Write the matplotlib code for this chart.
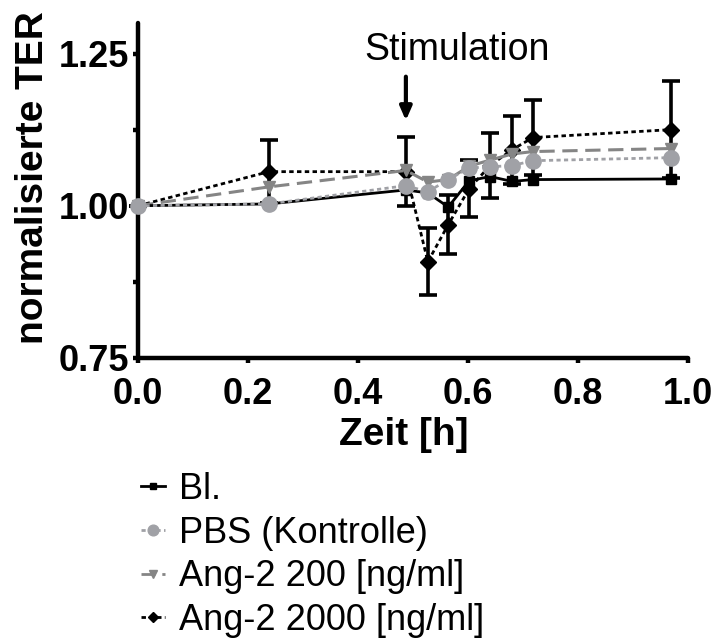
import matplotlib
matplotlib.use("Agg")
import matplotlib.pyplot as plt
from matplotlib.lines import Line2D

# Time points [h]
zeit = [0.0, 0.238, 0.487, 0.527, 0.564, 0.602, 0.640, 0.680, 0.718, 0.969]

# Normalised TER per group
bl = [1.000, 1.003, 1.026, 1.021, 0.998, 1.041, 1.048, 1.040, 1.043, 1.044]
pbs = [1.000, 1.003, 1.033, 1.023, 1.043, 1.062, 1.064, 1.066, 1.074, 1.079]
ang200 = [1.000, 1.031, 1.058, 1.039, 1.043, 1.065, 1.075, 1.085, 1.089, 1.094]
ang2000 = [1.000, 1.056, 1.056, 0.908, 0.969, 1.028, 1.066, 1.092, 1.112, 1.125]
ang2000_err = [0.0, 0.052, 0.057, 0.055, 0.048, 0.047, 0.053, 0.056, 0.062, 0.080]

labels = ["Bl.", "PBS (Kontrolle)", "Ang-2 200 [ng/ml]", "Ang-2 2000 [ng/ml]"]
x_ticks = [0.0, 0.2, 0.4, 0.6, 0.8, 1.0]
x_ticklabels = ["0.0", "0.2", "0.4", "0.6", "0.8", "1.0"]
y_ticks = [0.75, 1.00, 1.25]
y_ticklabels = ["0.75", "1.00", "1.25"]
y_minor = [0.875, 1.125]

stim_time = 0.487

plt.rcParams["font.family"] = ["Liberation Sans", "DejaVu Sans"]

fig = plt.figure(figsize=(7.17, 6.41), dpi=100)
ax = fig.add_axes([0.1925, 0.4415, 0.7671, 0.5225])

black = "#000000"
light_grey = "#a0a1a6"
mid_grey = "#858585"

styles = [
    dict(color=black, lw=2.0, ls="-", marker="s", ms=7),
    dict(color=light_grey, lw=2.0, ls=(0, (1.5, 1.2)), marker="o", ms=11),
    dict(color=mid_grey, lw=2.2, ls=(0, (5, 2.5)), marker="v", ms=9),
    dict(color=black, lw=2.0, ls=(0, (1.6, 1.2)), marker="D", ms=8),
]

ax.errorbar(zeit, ang2000, yerr=ang2000_err, fmt="none", ecolor=black,
            elinewidth=2.6, capsize=6.5, capthick=2.6, clip_on=False, zorder=3)
series = [bl, pbs, ang200, ang2000]
orders = [5, 6, 4, 3]
for vals, st, z in zip(series, styles, orders):
    ax.plot(zeit, vals, mfc=st["color"], mec=st["color"], clip_on=False,
            zorder=z, **st)

ax.set_xlim(0.0, 1.0)
ax.set_ylim(0.75, 1.30)
ax.set_xticks(x_ticks)
ax.set_xticklabels(x_ticklabels)
ax.set_yticks(y_ticks)
ax.set_yticklabels(y_ticklabels)
ax.set_yticks(y_minor, minor=True)

for side in ("top", "right"):
    ax.spines[side].set_visible(False)
for side in ("left", "bottom"):
    ax.spines[side].set_linewidth(3.2)
    ax.spines[side].set_capstyle("round")

ax.tick_params(axis="both", which="both", direction="out", length=3.5,
               width=3.2, labelsize=26)
ax.tick_params(axis="x", pad=10)
ax.tick_params(axis="y", pad=3)
for lab in ax.get_xticklabels() + ax.get_yticklabels():
    lab.set_fontweight("bold")

ax.set_xlabel("Zeit [h]", fontsize=28, fontweight="bold")
ax.set_ylabel("normalisierte TER", fontsize=28, fontweight="bold")
ax.xaxis.set_label_coords(0.484, -0.177)
ax.yaxis.set_label_coords(-0.158, 0.54)

# Stimulation marker
ax.annotate("", xy=(stim_time, 1.140), xytext=(stim_time, 1.212),
            arrowprops=dict(arrowstyle="-|>,head_length=0.8,head_width=0.35",
                            color=black, lw=3.0, shrinkA=0, shrinkB=0))
ax.text(0.58, 1.256, "Stimulation", fontsize=27, ha="center", va="center")

# Legend handles: short line with a small marker
handles = []
for st in styles:
    handles.append(Line2D([], [], color=st["color"], lw=2.0, ls=st["ls"],
                          marker=st["marker"], ms=st["ms"] * 0.7,
                          mfc=st["color"], mec=st["color"]))

fig.legend(handles, labels, loc="upper left",
           bbox_to_anchor=(0.197, 0.2635), frameon=False, fontsize=26,
           handlelength=0.65, handletextpad=0.4, labelspacing=0.24,
           borderpad=0, borderaxespad=0)

fig.savefig("out.png", dpi=100)
